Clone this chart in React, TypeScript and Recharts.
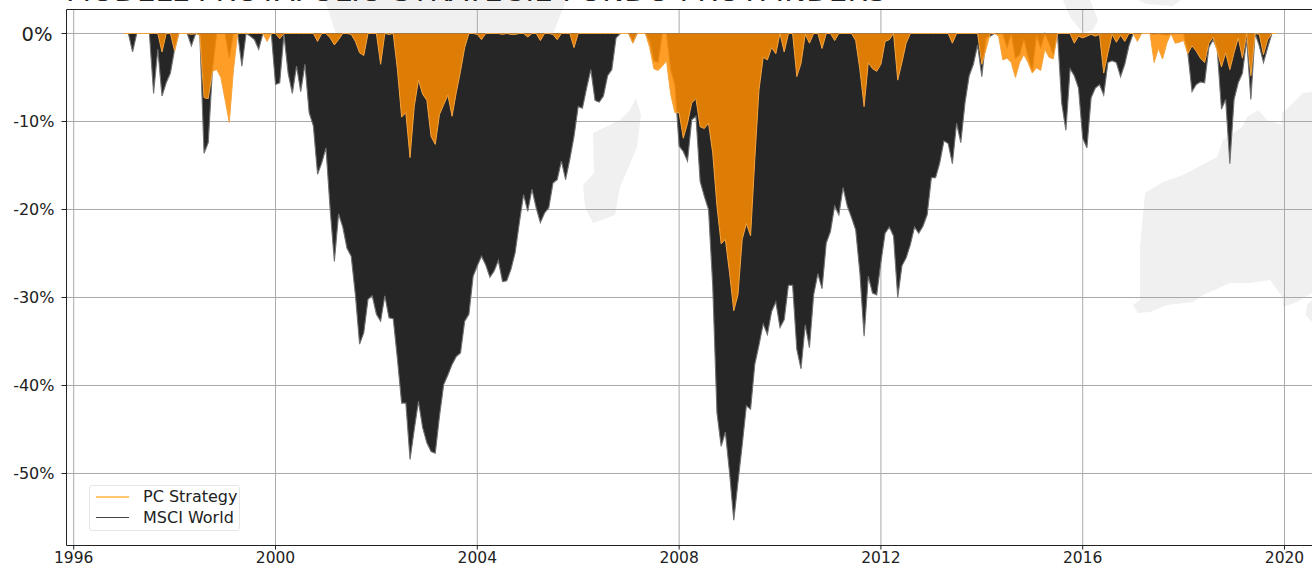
import React from 'react';
import { AreaChart, Area, XAxis, YAxis, CartesianGrid, Legend, ReferenceLine } from 'recharts';

const WIDTH = 1312;
const HEIGHT = 567;

// monthly drawdowns in %, starting january 1997
const START_YEAR = 1997;

const msciWorld = [
  0, 0, -2.1, 0, 0, 0, 0, -6.8, -1.8, -7.1, -5.6, -4.5,
  -1.8, 0, 0, 0, -1.4, 0, -0.1, -13.6, -12.4, -4.1, 0, 0,
  0, -2.8, 0, 0, -3.7, 0, -0.3, -0.7, -1.8, 0, 0, 0,
  -5.8, -5.6, -0.1, -4.5, -6.8, -3.7, -6.6, -3.5, -9.0, -10.5, -16, -14.7,
  -13, -20, -25.9, -20.5, -22, -24.4, -25.3, -29.7, -35.3, -34, -30.2, -29.8,
  -31.9, -32.7, -29.8, -32.3, -32.4, -37, -42, -42, -48.4, -45, -41.8, -44.8,
  -46.5, -47.5, -47.7, -43.5, -39.9, -38.8, -37.6, -36.7, -36.3, -32.7, -31.9, -27.6,
  -26.4, -25.3, -26.3, -27.7, -27, -25.8, -28.2, -28.1, -26.8, -24.9, -21.5, -18.3,
  -20.2, -17.7, -19.8, -21.5, -20.4, -19.8, -17, -16.6, -14.5, -16.6, -14.3, -11.7,
  -8.3, -8.5, -6.2, -4.1, -7.6, -7.8, -7.1, -4.8, -4.1, -0.5, 0, 0,
  0, -1, 0, 0, 0, -0.9, -3.1, -3.3, 0, 0, -4.1, -5.8,
  -12.8, -13.4, -14.5, -9.8, -9.4, -16.8, -18.5, -20, -28.7, -43.1, -46.9, -45.3,
  -49.9, -55.3, -51, -46.8, -42.3, -42.7, -37.6, -35.4, -33, -34.2, -31.6, -30.5,
  -33.4, -32.5, -28.6, -28.6, -35.9, -38.1, -33.1, -35.7, -29.7, -27.3, -29, -23.8,
  -22.5, -19.6, -20.6, -17.5, -19.6, -20.9, -22.3, -27.2, -34.4, -27.6, -29.5, -29.7,
  -26, -22.7, -22, -23, -30, -26.4, -25.5, -24, -22, -22.7, -21.9, -20.6,
  -16.4, -16.4, -14.7, -12.2, -12.5, -14.8, -10.2, -12.4, -7.9, -4.8, -3.5, -1.3,
  -4.9, -0.5, -0.3, 0, 0, 0, -1.6, 0, -2.8, -2.4, -0.6, -2.6,
  -4.3, -0.2, -1.6, 0, -1.1, -2.4, 0, -7.9, -11, -4, -4.8, -6.2,
  -11.9, -13, -7.3, -6.2, -5.8, -7, -3.3, -3.1, -3.3, -4.9, -3.5, -1.4,
  0, 0, 0, 0, 0, -0.1, 0, -0.1, -0.2, -0.1, 0, 0,
  0, -2.2, -6.6, -5.8, -5.5, -5.6, -1.6, -0.7, -1.8, -8.6, -7.5, -14.8,
  -7.5, -5.6, -4.5, -0.7, -7.5, 0, -1.4, -3.3, -1.6, 0, 0,
];

const pcStrategy = [
  0, 0, 0, 0, 0, 0, 0, 0, 0, -2.1, 0, 0,
  -2.0, 0, 0, 0, -0.1, 0, -0.2, -7.3, -7.4, -4.3, -4.1, -5.0,
  -7.5, -10.1, -4.1, 0, 0, 0, 0, 0, 0, 0, -0.9, 0,
  0, -0.6, 0, 0, 0, 0, 0, 0, 0, 0, -0.9, 0,
  0, -0.5, -1.3, -0.7, 0, 0, -0.1, -0.9, -2.2, -2.5, 0, 0,
  0, -3.5, 0, -0.1, 0, -4.1, -9.5, -9, -14.1, -8.3, -5.3, -6.9,
  -7.6, -11.7, -12.6, -9.2, -8.1, -7, -9.4, -6.7, -4.3, -1.6, 0, 0,
  -0.1, -0.7, 0, 0, 0, 0, -0.1, 0, -0.1, -0.1, 0, 0,
  -0.4, 0, 0, -0.8, 0, 0, -0.1, -0.7, 0, 0, 0, -1.6,
  0, 0, 0, 0, 0, 0, 0, 0, 0, 0, 0, 0,
  0, -1.1, 0, 0, 0, -1.6, -4, -4.2, -3.7, -3.1, -6.9, -9,
  -9, -11.9, -10.2, -7.9, -7.4, -10.6, -10.8, -10.2, -13.6, -19.6, -23.9, -23.4,
  -27.2, -31.5, -29.7, -23.4, -21.6, -23, -14.3, -6.4, -2.7, -3, -1.6, -2.3,
  0, -2.1, 0, 0, -4.9, -3.4, -0.1, -1.1, 0, 0, -1.7, 0,
  0, -0.8, 0, 0, 0, 0, -0.8, -4.1, -8.3, -3.3, -4, -4.3,
  -3.5, -0.9, -0.7, 0, -5.3, -3.3, -1.1, 0, 0, 0, 0, 0,
  0, 0, 0, 0, 0, -1.1, 0, 0, 0, 0, 0, 0,
  -3.5, -1.8, 0, 0, -0.3, -3, -2.8, -3.3, -5, -3.3, -2.4, -3.3,
  -4.5, -3.9, -4.2, -1.8, -2.7, -2.9, 0, 0, 0, 0, -1.1, -0.3,
  -0.5, -0.3, -0.1, -0.3, -0.1, -4.5, -2.2, -0.1, -1, -0.2, -0.9, 0,
  0, -0.9, 0, 0, 0, -3.3, -1.7, -2.9, -1.1, 0, -1.1, -1,
  -0.8, -2.3, -1.4, -2, -2.8, -3.3, -1.1, -0.4, -2, -3.8, -2.2, -4.1,
  -2.2, -0.5, -2.8, 0, -4.8, 0, -0.1, -2.4, -0.7, 0, 0,
];

const yearTicks = [1996, 2000, 2004, 2008, 2012, 2016, 2020];
const percentTicks = [-50, -40, -30, -20, -10, 0];

const data = msciWorld.map((msci, i) => ({
  year: START_YEAR + i / 12,
  msci,
  pc: pcStrategy[i],
}));

const FONT = '"DejaVu Sans", sans-serif';
const GRID = '#aaaaaa';
const SPINE = '#222222';
const MAP = '#f0f0f0';

// faint world map watermark behind the plot
const mapShapes = [
  'M325 0 L566 0 L553 34 L545 70 L342 70 L336 34 Z',
  'M636 98 L641 115 L637 147 L620 187 L615 215 L593 223 L585 207 L583 185 L594 173 L593 133 L620 120 L630 110 Z',
  'M1133 305 L1138 313 L1150 312 L1167 305 L1193 302 L1203 295 L1230 283 L1250 283 L1270 280 L1283 298 L1283 307 L1297 302 L1312 293 L1312 92 L1303 93 L1293 103 L1282 113 L1282 125 L1267 120 L1258 110 L1247 117 L1242 127 L1223 140 L1217 157 L1183 175 L1163 182 L1145 193 L1140 247 L1140 300 Z',
  'M1063 0 L1090 0 L1098 20 L1093 30 L1083 33 L1070 17 Z',
  'M1138 0 L1181 0 L1173 6 L1147 4 Z',
  'M1312 300 L1307 305 L1306 315 L1312 322 Z',
];

// the zero label is set larger than the others in the original
const PercentTick = ({ x, y, payload }: any) => (
  <text
    x={payload.value === 0 ? x - 2 : x}
    y={y}
    dy="0.36em"
    textAnchor="end"
    fontFamily={FONT}
    fontSize={payload.value === 0 ? 19.5 : 16}
    fill="#222"
  >
    {`${payload.value}%`}
  </text>
);

const LegendBox = () => (
  <div
    style={{
      width: 149,
      height: 44,
      border: '1px solid #e6e6e6',
      borderRadius: 3,
      background: 'rgba(255,255,255,0.8)',
      fontFamily: FONT,
      fontSize: 16,
      color: '#222',
    }}
  >
    {[
      { name: 'PC Strategy', color: '#ffc870', size: 2 },
      { name: 'MSCI World', color: '#444444', size: 1 },
    ].map((item) => (
      <div key={item.name} style={{ display: 'flex', alignItems: 'center', height: 21 }}>
        <span style={{ width: 33, height: item.size, marginLeft: 6, background: item.color, display: 'inline-block' }} />
        <span style={{ marginLeft: 14 }}>{item.name}</span>
      </div>
    ))}
  </div>
);

export default function App() {
  return (
    <div style={{ position: 'absolute', left: 0, top: 0, width: WIDTH, height: HEIGHT, overflow: 'hidden', background: '#fff' }}>
      <svg width={WIDTH} height={HEIGHT} style={{ position: 'absolute', left: 0, top: 0 }}>
        {mapShapes.map((d) => (
          <path key={d} d={d} fill={MAP} />
        ))}
      </svg>
      <div
        style={{
          position: 'absolute',
          left: 66,
          top: -27,
          fontFamily: FONT,
          fontSize: 29,
          lineHeight: '36px',
          letterSpacing: 0.25,
          whiteSpace: 'nowrap',
          color: '#222',
        }}
      >
        MODELL PROTAFOLIO STRATEGIE FONDO PROTFINDERS
      </div>
      <div style={{ position: 'absolute', left: 0, top: 0 }}>
        <AreaChart width={WIDTH} height={HEIGHT} data={data} margin={{ top: 9.5, right: 0, bottom: 0, left: 0 }}>
          <XAxis
            dataKey="year"
            type="number"
            domain={[1995.857, 2020.545]}
            ticks={yearTicks}
            tickFormatter={(v) => String(v)}
            height={21.5}
            tickSize={4}
            tickMargin={2}
            stroke={SPINE}
            tick={{ fontFamily: FONT, fontSize: 15.5, fill: '#222' }}
          />
          <YAxis
            type="number"
            domain={[-58.18, 2.727]}
            ticks={percentTicks}
            width={66.5}
            tickSize={5}
            tickMargin={7}
            stroke={SPINE}
            tick={<PercentTick />}
          />
          <Area
            type="linear"
            dataKey="msci"
            name="MSCI World"
            stroke="#707070"
            strokeWidth={1.1}
            fill="#262626"
            fillOpacity={1}
            isAnimationActive={false}
          />
          <Area
            type="linear"
            dataKey="pc"
            name="PC Strategy"
            stroke="#f5a440"
            strokeWidth={1}
            fill="#ff8d00"
            fillOpacity={0.85}
            isAnimationActive={false}
          />
          <CartesianGrid stroke={GRID} strokeWidth={1} horizontalValues={percentTicks} verticalValues={yearTicks} />
          <ReferenceLine y={2.727} stroke={SPINE} strokeWidth={1} />
          <Legend
            layout="horizontal"
            verticalAlign="middle"
            align="center"
            content={<LegendBox />}
            wrapperStyle={{ position: 'absolute', left: 89, top: 485, width: 151, height: 46 }}
          />
        </AreaChart>
      </div>
    </div>
  );
}
